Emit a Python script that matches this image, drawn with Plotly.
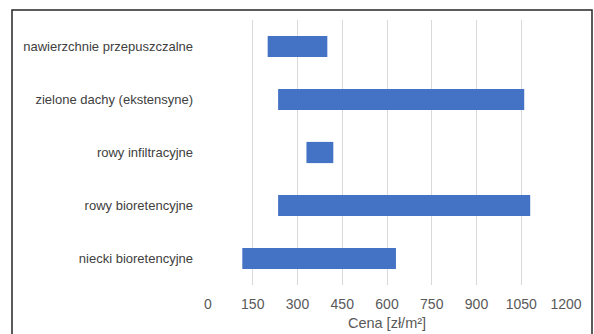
import plotly.graph_objects as go

categories = ["nawierzchnie przepuszczalne", "zielone dachy (ekstensyne)", "rowy infiltracyjne",
              "rowy bioretencyjne", "niecki bioretencyjne"]
low = [200, 235, 330, 235, 115]
high = [400, 1060, 420, 1080, 630]
tick_vals = [0, 150, 300, 450, 600, 750, 900, 1050, 1200]

W, H = 594, 334
ML, MR, MT, MB = 208, 28, 20, 49

fig = go.Figure()
fig.add_trace(go.Bar(
    y=categories,
    x=[h - l for l, h in zip(low, high)],
    base=low,
    orientation="h",
    marker=dict(color="#4472C4", line=dict(width=0)),
    width=0.4,
    hoverinfo="skip",
))

pw = W - ML - MR
ph = H - MT - MB
fig.update_layout(
    width=W, height=H,
    margin=dict(l=ML, r=MR, t=MT, b=MB, pad=0, autoexpand=False),
    paper_bgcolor="white", plot_bgcolor="white",
    font=dict(family="Liberation Sans", size=13, color="#404040"),
    showlegend=False,
    xaxis=dict(range=[0, 1200], tickvals=tick_vals, showgrid=True, gridcolor="#d9d9d9",
               gridwidth=1, zeroline=False, showline=False, ticks="", automargin=False,
               ticklabelstandoff=9, tickfont=dict(size=14, color="#595959"),
               title=dict(text="Cena [zł/m²]", font=dict(size=14.5, color="#595959"), standoff=6)),
    yaxis=dict(autorange="reversed", showgrid=False, zeroline=False, showline=False, ticks="",
               automargin=False,
               ticklabelstandoff=14, tickfont=dict(size=13, color="#404040")),
    shapes=[
        dict(type="rect", xref="paper", yref="paper",
             x0=(12 - ML) / pw, x1=(592 - ML) / pw,
             y0=-(H - MT + 20 - ph) / ph - 1, y1=(ph + MT - 10) / ph,
             line=dict(color="#262626", width=1.5), fillcolor="rgba(0,0,0,0)", layer="above"),
    ],
)

fig.write_html("out.html")
